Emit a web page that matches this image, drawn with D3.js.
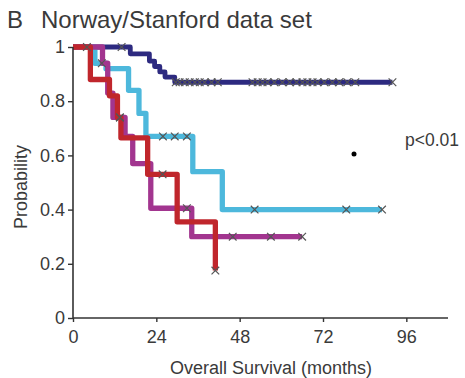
<!DOCTYPE html>
<html>
<head>
<meta charset="utf-8">
<script src="https://cdn.jsdelivr.net/npm/d3@7"></script>
<style>
  body { margin: 0; background: #fff; }
  svg text { font-family: "Liberation Sans", Arial, sans-serif; fill: #3a3a3a; }
</style>
</head>
<body>
<figure id="km" style="margin:0"></figure>
<script>
// survival step data (time in months, survival after the drop)
const groups = ["navy", "cyan", "magenta", "red"];

const navyTimes = [16.5, 22, 23.5, 25, 26.5, 29.3];
const navySurv = [0.975, 0.948, 0.928, 0.908, 0.889, 0.87];
const navyCens = [14, 29.6, 30.7, 32.2, 33.6, 35.1, 36.5, 37.9, 39.9, 41.7, 51.7, 53.2, 54.6, 56, 58,
  60.3, 62.4, 64.4, 66.1, 67.5, 69, 70.4, 72.4, 74.7, 76.7, 79, 81.3, 92];

const cyanTimes = [6.3, 9.5, 16, 19, 21, 34.5, 43];
const cyanSurv = [0.94, 0.92, 0.84, 0.755, 0.67, 0.54, 0.4];
const cyanCens = [8.3, 25.9, 29.3, 32.8, 52.3, 78.7, 89];

const magentaTimes = [8.5, 10, 11.5, 15, 17.2, 22.4, 34.2];
const magentaSurv = [0.94, 0.83, 0.74, 0.67, 0.57, 0.405, 0.3];
const magentaCens = [13.5, 32.8, 46, 57, 66];

const redTimes = [5, 10.5, 12.8, 13.8, 21.5, 30, 41];
const redSurv = [0.88, 0.82, 0.74, 0.665, 0.53, 0.355, 0.175];
const redCens = [4, 13.5, 25.8, 41];

const xTicks = [0, 24, 48, 72, 96];
const yTicks = [0, 0.2, 0.4, 0.6, 0.8, 1];

const colors = {navy: "#2d2a80", cyan: "#4db8dc", magenta: "#a2358f", red: "#c0262c"};
const widths = {navy: 4.8, cyan: 5.3, magenta: 5.3, red: 5.3};

const series = {
  navy: {times: navyTimes, surv: navySurv, cens: navyCens},
  cyan: {times: cyanTimes, surv: cyanSurv, cens: cyanCens},
  magenta: {times: magentaTimes, surv: magentaSurv, cens: magentaCens},
  red: {times: redTimes, surv: redSurv, cens: redCens}
};

const width = 465, height = 378;
const x = d3.scaleLinear().domain([0, 108]).range([73, 448]);
const y = d3.scaleLinear().domain([0, 1]).range([318, 47]);

const svg = d3.select("figure#km").append("svg")
  .attr("width", width)
  .attr("height", height);

// build step points; curve ends at last censor time
function stepPoints(s) {
  const pts = [[0, 1]];
  s.times.forEach((t, i) => pts.push([t, s.surv[i]]));
  const end = d3.max(s.cens.concat(s.times));
  pts.push([end, s.surv[s.surv.length - 1]]);
  return pts;
}

function survAt(s, t) {
  let v = 1;
  s.times.forEach((tt, i) => { if (tt <= t) v = s.surv[i]; });
  return v;
}

const line = d3.line()
  .x(d => x(d[0]))
  .y(d => y(d[1]))
  .curve(d3.curveStepAfter);

groups.forEach(g => {
  svg.append("path")
    .attr("d", line(stepPoints(series[g])))
    .attr("fill", "none")
    .attr("stroke", colors[g])
    .attr("stroke-width", widths[g])
    .attr("stroke-linejoin", "round");
});

// censor marks
groups.forEach(g => {
  const s = series[g];
  svg.selectAll(null)
    .data(s.cens)
    .enter()
    .append("path")
    .attr("d", d3.symbol(d3.symbolX, 40)())
    .attr("transform", d => "translate(" + x(d) + "," + y(survAt(s, d)) + ")")
    .attr("fill", "none")
    .attr("stroke", "#555")
    .attr("stroke-width", 1.2);
});

// axes
const xAxis = svg.append("g")
  .attr("transform", "translate(0," + y(0) + ")")
  .call(d3.axisBottom(x).tickValues(xTicks).tickSize(4).tickPadding(8).tickFormat(d3.format("d")));
const yAxis = svg.append("g")
  .attr("transform", "translate(" + x(0) + ",0)")
  .call(d3.axisLeft(y).tickValues(yTicks).tickSize(5).tickPadding(3).tickFormat(d3.format("~g")));

[xAxis, yAxis].forEach(a => {
  a.select(".domain").attr("stroke", "#333").attr("stroke-width", 1.6);
  a.selectAll(".tick line").attr("stroke", "#333").attr("stroke-width", 1.4);
  a.selectAll(".tick text").style("font-size", "18px").attr("fill", "#3a3a3a");
});
xAxis.select(".domain").attr("d", "M" + x(0) + ",0H" + x(108));
yAxis.select(".domain").attr("d", "M0," + y(0) + "V" + y(1));

svg.append("text")
  .attr("x", 271).attr("y", 374)
  .attr("text-anchor", "middle")
  .style("font-size", "18px")
  .text("Overall Survival (months)");

svg.append("text")
  .attr("transform", "translate(27,187) rotate(-90)")
  .attr("text-anchor", "middle")
  .style("font-size", "18px")
  .text("Probability");

svg.append("text")
  .attr("x", 7).attr("y", 28)
  .style("font-size", "24px").attr("fill", "#222")
  .text("B");
svg.append("text")
  .attr("x", 41).attr("y", 28)
  .style("font-size", "24px").attr("fill", "#222")
  .text("Norway/Stanford data set");

svg.append("text")
  .attr("x", 405).attr("y", 146)
  .style("font-size", "17.5px")
  .text("p<0.01");

svg.append("circle")
  .attr("cx", 354).attr("cy", 154).attr("r", 2.5)
  .attr("fill", "#000");
</script>
</body>
</html>
